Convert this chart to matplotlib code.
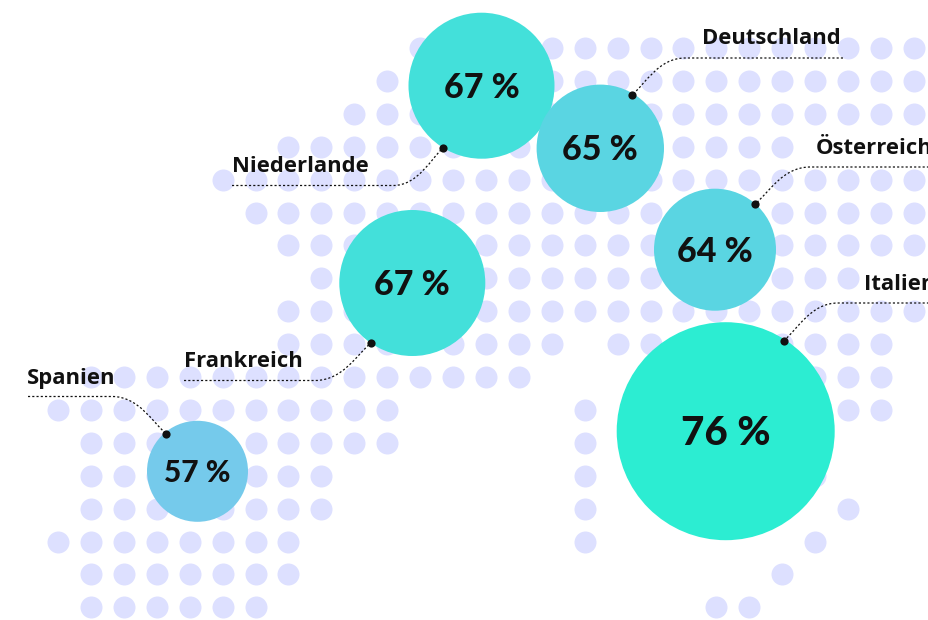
import matplotlib
matplotlib.use('Agg')
import matplotlib.pyplot as plt
from matplotlib.patches import Circle, PathPatch
from matplotlib.path import Path

plt.rcParams['font.family'] = ['Open Sans', 'DejaVu Sans']

# dot map of the background, one string per row
dot_map = [
    '...........################',
    '..........#################',
    '.........##################',
    '.......################....',
    '.....######################',
    '......#####################',
    '.......####################',
    '........#################..',
    '.......####################',
    '.......#########.#########.',
    '.##############........###.',
    '###########.....#.......##.',
    '.##########.....#..........',
    '.########.......#......#...',
    '.########.......#.......#..',
    '########........#......#...',
    '.#######..............#....',
    '.######.............##.....',
]

countries = ['Spanien', 'Frankreich', 'Niederlande', 'Deutschland', 'Österreich', 'Italien']
values = [57, 67, 67, 65, 64, 76]
bubble_x = [197.5, 412.3, 481.5, 600.3, 715, 725.7]
bubble_y = [471.3, 283, 85.7, 148.3, 249.7, 431.2]
bubble_r = [50.5, 73, 73, 63.7, 61, 109]
bubble_colors = ['#75CAEB', '#43E0DA', '#43E0DA', '#5AD5E2', '#5AD5E2', '#2CEDD2']
value_sizes = [21.5, 24.5, 24.5, 24.5, 24.5, 29]

# where the country names sit
label_x = [27, 184, 232, 702, 816, 864]
label_y = [384, 367, 172, 44, 154, 290]

# marker on the bubble, then the flat end of the leader
anchor_x = [166, 371, 443, 632, 755, 784]
anchor_y = [433.5, 343, 148, 95, 204, 340.5]
line_end_x = [28, 184, 232, 843, 929, 929]
line_y = [396.5, 380.5, 185.5, 58, 167, 303]
bend_x = [112, 315, 393, 685, 810, 838]

INK = '#111111'
DOT = '#DDE0FF'

fig = plt.figure(figsize=(9.29, 6.2), dpi=100)
ax = fig.add_axes([0, 0, 1, 1])
ax.set_xlim(0, 929)
ax.set_ylim(620, 0)
ax.axis('off')

xs, ys = [], []
for r, row in enumerate(dot_map):
    for c, ch in enumerate(row):
        if ch == '#':
            xs.append(58 + 32.92 * c)
            ys.append(48 + 32.9 * r)
ax.scatter(xs, ys, s=251, color=DOT, linewidths=0, zorder=1)

for i, name in enumerate(countries):
    ax.add_patch(Circle((bubble_x[i], bubble_y[i]), bubble_r[i], color=bubble_colors[i], lw=0, zorder=3))
    ax.text(bubble_x[i], bubble_y[i] - 1, f'{values[i]} %', fontsize=value_sizes[i], fontweight='black',
            family=['Lato', 'DejaVu Sans'], color=INK, ha='center', va='center_baseline', zorder=5)
    ax.text(label_x[i], label_y[i], name, fontsize=15.8, fontweight='bold', color=INK,
            ha='left', va='baseline', zorder=2)

    # leader: straight piece, then a curve down to the marker
    ax_, ay = anchor_x[i], anchor_y[i]
    bx, ly = bend_x[i], line_y[i]
    dx, dy = ax_ - bx, ay - ly
    verts = [(line_end_x[i], ly), (bx, ly),
             (bx + dx * 0.5, ly), (ax_ - dx * 0.25, ay - dy * 0.3), (ax_, ay)]
    codes = [Path.MOVETO, Path.LINETO, Path.CURVE4, Path.CURVE4, Path.CURVE4]
    ax.add_patch(PathPatch(Path(verts, codes), fill=False, ec=INK, lw=0.9,
                           ls=(0, (1.7, 1.7)), zorder=4))
    ax.scatter([ax_], [ay], s=35, color=INK, linewidths=0, zorder=6)

fig.savefig('out.png', dpi=100)
